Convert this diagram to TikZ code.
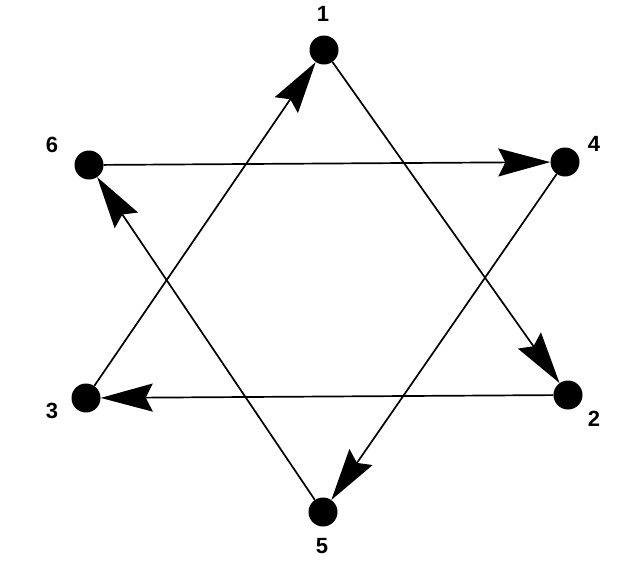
\documentclass[tikz,border=0pt]{standalone}
\usepackage{fontspec}
\setmainfont{Liberation Sans}
\usetikzlibrary{arrows.meta}

\begin{document}
\begin{tikzpicture}[
    x=1pt, y=-1pt,
    dot/.style={
        circle,
        fill=black,
        minimum size=29pt,
        inner sep=0pt
    },
    lbl/.style={font=\fontsize{22}{26}\selectfont\bfseries},
    arr/.style={draw, line width=1.7pt,
        -{Stealth[length=52pt,width=28pt,inset=7pt]}},
]
\useasboundingbox (0,0) rectangle (640,560);

% Vertices
\node[dot] (n1) at (324,50)  {};
\node[dot] (n2) at (568,395) {};
\node[dot] (n3) at (86,398)  {};
\node[dot] (n4) at (565,162) {};
\node[dot] (n5) at (323,512) {};
\node[dot] (n6) at (89,165)  {};

% Labels
\node[lbl] (l1) at (323,14)  {1};
\node[lbl] (l2) at (594,419) {2};
\node[lbl] (l3) at (52,411)  {3};
\node[lbl] (l4) at (594,144) {4};
\node[lbl] (l5) at (322,546) {5};
\node[lbl] (l6) at (52,145)  {6};

% Edges
\draw[arr] (n3) -- (n1);
\draw[arr] (n1) -- (n2);
\draw[arr] (n2) -- (n3);
\draw[arr] (n6) -- (n4);
\draw[arr] (n4) -- (n5);
\draw[arr] (n5) -- (n6);

\end{tikzpicture}
\end{document}
